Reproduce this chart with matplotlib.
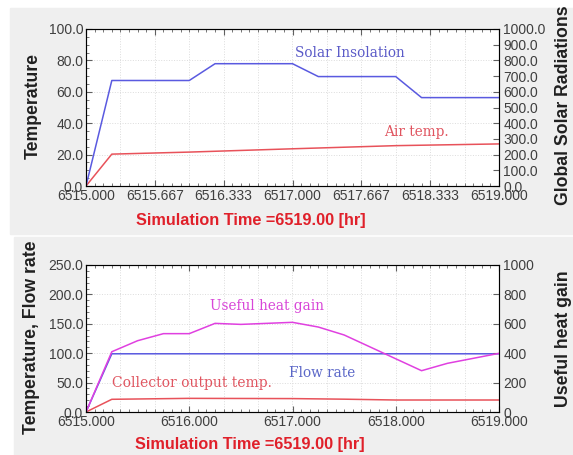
import matplotlib
matplotlib.use('Agg')

import numpy as np
import matplotlib.pyplot as plt
from matplotlib.patches import Rectangle
from matplotlib.ticker import MultipleLocator

# === Data ===
# top panel: solar insolation (right axis, W/m2) and air temperature (left axis)
solar_t = [6515.0, 6515.25, 6516.0, 6516.25, 6517.0, 6517.25, 6518.0, 6518.25, 6519.0]
solar_w = [0, 672, 672, 779, 779, 697, 697, 563, 563]

air_t = [6515.0, 6515.25, 6516.0, 6517.0, 6518.0, 6519.0]
air_temp = [0, 20.3, 21.6, 23.7, 25.7, 26.8]

# bottom panel: flow rate + collector outlet temp (left), useful heat gain (right)
flow_t = [6515.0, 6515.25, 6519.0]
flow_rate = [0, 99, 99]

coll_t = [6515.0, 6515.25, 6516.0, 6517.0, 6517.5, 6518.0, 6519.0]
coll_temp = [0, 21.6, 23.2, 22.8, 21.8, 20.4, 20.4]

gain_t = [6515.0, 6515.25, 6515.5, 6515.75, 6516.0, 6516.25, 6516.5, 6516.75,
          6517.0, 6517.25, 6517.5, 6518.25, 6518.5, 6518.75, 6519.0]
gain_w = [0, 410, 485, 533, 533, 603, 596, 603, 610, 578, 524, 281, 331, 365, 399]

top_xticks = [6515.0, 6515.667, 6516.333, 6517.0, 6517.667, 6518.333, 6519.0]
bot_xticks = [6515.0, 6516.0, 6517.0, 6518.0, 6519.0]
xlabel_txt = "Simulation Time =6519.00 [hr]"

W, H = 573, 455
fig = plt.figure(figsize=(W / 100, H / 100), dpi=100, facecolor='white')
plt.rcParams['font.family'] = ['Liberation Sans', 'DejaVu Sans']

# gray screenshot panels behind each chart
fig.patches.append(Rectangle((10 / W, 1 - 234 / H), 1, (234 - 8) / H,
                             transform=fig.transFigure, color='#efefef', zorder=-10))
fig.patches.append(Rectangle((14 / W, 0), 1, (455 - 237) / H,
                             transform=fig.transFigure, color='#efefef', zorder=-10))

tick_col = '#3f3f3f'
spine_col = '#606060'
note_font = 'DejaVu Serif'


def style(ax, xticks):
    ax.set_facecolor('white')
    for s in ax.spines.values():
        s.set_color(spine_col)
    ax.set_xlim(6515, 6519)
    ax.set_xticks(xticks)
    ax.set_xticklabels(["%.3f" % v for v in xticks])
    ax.xaxis.set_minor_locator(MultipleLocator(1 / 12))
    ax.tick_params(which='both', direction='in', top=True, colors=spine_col,
                   labelcolor=tick_col, labelsize=10, pad=2)
    ax.tick_params(which='major', length=4)
    ax.tick_params(which='minor', length=2)
    ax.grid(False)


# ---------- top chart ----------
ax1 = fig.add_axes([86 / W, 1 - 186 / H, 413 / W, 157 / H])
style(ax1, top_xticks)
ax1.set_ylim(0, 100)
ax1.set_yticks(np.arange(0, 101, 20))
ax1.set_yticklabels(["%.1f" % v for v in np.arange(0, 101, 20)])
ax1.yaxis.set_minor_locator(MultipleLocator(5))
for gx in np.arange(6515, 6519.01, 1 / 3):
    ax1.axvline(gx, color='#dcdcdc', lw=0.7, ls=':', zorder=0)
for gy in range(20, 100, 20):
    ax1.axhline(gy, color='#dcdcdc', lw=0.7, ls=':', zorder=0)
ax1.plot(air_t, air_temp, color='#e8525a', lw=1.1)

ax1r = ax1.twinx()
ax1r.set_ylim(0, 1000)
ax1r.set_yticks(np.arange(0, 1001, 100))
ax1r.set_yticklabels(["%.1f" % v for v in np.arange(0, 1001, 100)])
ax1r.tick_params(direction='in', colors=spine_col, labelcolor=tick_col,
                 labelsize=10, pad=3, length=4)
ax1r.plot(solar_t, solar_w, color='#5a5ae0', lw=1.1)

ax1.text(6517.56, 85, "Solar Insolation", family=note_font, fontsize=9.8,
         color='#5b5bc8', ha='center', va='center')
ax1.text(6518.2, 34.6, "Air temp.", family=note_font, fontsize=9.8,
         color='#e05560', ha='center', va='center')

# ---------- bottom chart ----------
ax2 = fig.add_axes([86 / W, 1 - 412 / H, 413 / W, 147 / H])
style(ax2, bot_xticks)
ax2.set_ylim(0, 250)
ax2.set_yticks(np.arange(0, 251, 50))
ax2.set_yticklabels(["%.1f" % v for v in np.arange(0, 251, 50)])
ax2.yaxis.set_minor_locator(MultipleLocator(10))
for gx in np.arange(6515, 6519.01, 1 / 3):
    ax2.axvline(gx, color='#dcdcdc', lw=0.7, ls=':', zorder=0)
for gy in range(50, 250, 50):
    ax2.axhline(gy, color='#dcdcdc', lw=0.7, ls=':', zorder=0)
ax2.plot(coll_t, coll_temp, color='#e8525a', lw=1.1)
ax2.plot(flow_t, flow_rate, color='#5a5ae0', lw=1.1)

ax2r = ax2.twinx()
ax2r.set_ylim(0, 1000)
ax2r.set_yticks(np.arange(0, 1001, 200))
ax2r.tick_params(direction='in', colors=spine_col, labelcolor=tick_col,
                 labelsize=10, pad=3, length=4)
ax2r.plot(gain_t, gain_w, color='#e040e0', lw=1.1)

ax2.text(6516.75, 180, "Useful heat gain", family=note_font, fontsize=9.8,
         color='#d846d8', ha='center', va='center')
ax2.text(6517.29, 67, "Flow rate", family=note_font, fontsize=9.8,
         color='#5b67c8', ha='center', va='center')
ax2.text(6516.03, 50, "Collector output temp.", family=note_font, fontsize=10,
         color='#e05560', ha='center', va='center')

# ---------- axis titles ----------
lab = dict(fontsize=12.7, fontweight='bold', color='#202020')
fig.text(33.5 / W, 1 - 106 / H, "Temperature", rotation=90, ha='center', va='center', **lab)
fig.text(563 / W, 1 - 205 / H, "Global Solar Radiations", rotation=90,
         ha='center', va='bottom', **lab)
fig.text(31.5 / W, 1 - 337.5 / H, "Temperature, Flow rate", rotation=90,
         ha='center', va='center', **lab)
fig.text(564 / W, 1 - 339 / H, "Useful heat gain", rotation=90, ha='center', va='center', **lab)

fig.text(251 / W, 1 - 220 / H, xlabel_txt, ha='center', va='center',
         fontsize=11.7, fontweight='bold', color='#e0202a')
fig.text(250 / W, 1 - 445 / H, xlabel_txt, ha='center', va='center',
         fontsize=11.7, fontweight='bold', color='#e0202a')

fig.savefig("out.png", dpi=100, facecolor=fig.get_facecolor())
